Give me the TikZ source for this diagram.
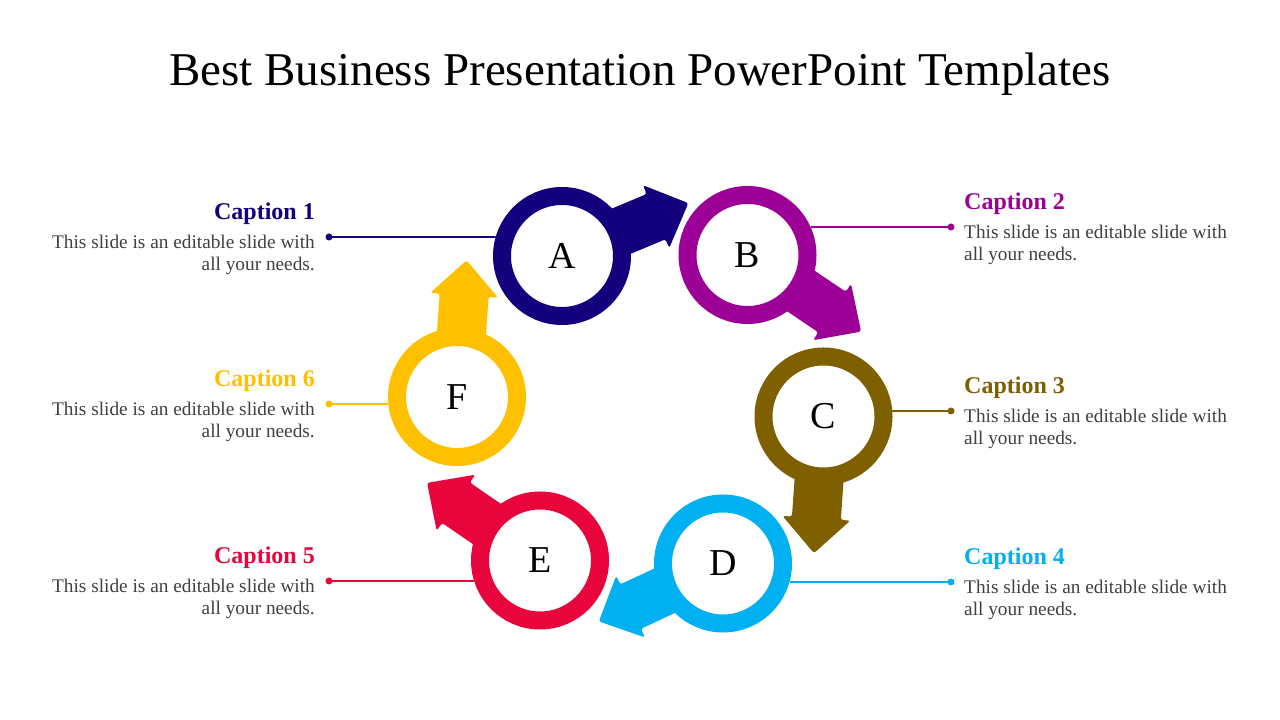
\documentclass[tikz,border=0pt]{standalone}
\usepackage{fontspec}
\setmainfont{Liberation Serif}
\definecolor{colA}{HTML}{13007C}
\definecolor{colB}{HTML}{9C0096}
\definecolor{colC}{HTML}{7F6000}
\definecolor{colD}{HTML}{00B0F0}
\definecolor{colE}{HTML}{E8053B}
\definecolor{colF}{HTML}{FFC000}
\definecolor{bodygray}{HTML}{404040}
\tikzset{
  ring/.style={circle, draw=#1, line width=18pt, fill=white, minimum size=120pt,
    inner sep=0pt, font=\fontsize{38}{38}\selectfont, text=black},
  arrowshape/.style={fill=#1, rounded corners=2.5pt},
  conn/.style={draw=#1, line width=2pt},
  dotmark/.style={fill=#1},
  captitle/.style={text=#1, inner sep=0pt, font=\bfseries\fontsize{24}{26}\selectfont},
  capbody/.style={text=bodygray, inner sep=0pt, font=\fontsize{19.3}{22}\selectfont},
}
\newcommand{\ringarrow}[3]{%
  \begin{scope}[shift={(#1)}, rotate=#2]
    \fill[arrowshape=#3] (40,-24.5) -- (102,-24.5) -- (102,-34) -- (137,0) -- (102,34) -- (102,24.5) -- (40,24.5) -- cycle;
  \end{scope}}
\begin{document}
\begin{tikzpicture}[x=1pt, y=1pt]
\useasboundingbox (0,0) rectangle (1280,720);
\fill[white] (0,0) rectangle (1280,720);
% title
\node[anchor=base, inner sep=0pt, font=\fontsize{47}{50}\selectfont] (title) at (640,634) {Best Business Presentation PowerPoint Templates};
% ring centres
\coordinate (cA) at (562,464);
\coordinate (cB) at (747.5,465);
\coordinate (cC) at (823.5,303.5);
\coordinate (cD) at (723,156.5);
\coordinate (cE) at (540,159.5);
\coordinate (cF) at (457,323);
% arrows
\ringarrow{cA}{22.7}{colA}
\ringarrow{cB}{-34}{colB}
\ringarrow{cC}{-94}{colC}
\ringarrow{cD}{205}{colD}
\ringarrow{cE}{145.5}{colE}
\ringarrow{cF}{86}{colF}
% rings
\node[ring=colA] (A) at (cA) {A};
\node[ring=colB] (B) at (cB) {B};
\node[ring=colC] (C) at (cC) {C};
\node[ring=colD] (D) at (cD) {D};
\node[ring=colE] (E) at (cE) {E};
\node[ring=colF] (F) at (cF) {F};
% dots
\coordinate (d1) at (329,483);
\coordinate (d2) at (951,493);
\coordinate (d3) at (951,309);
\coordinate (d4) at (951,138);
\coordinate (d5) at (329,139);
\coordinate (d6) at (329,316);
% connectors
\draw[conn=colA] (d1) -- (d1 -| A.164);
\draw[conn=colB] (d2) -- (d2 -| B.23.9);
\draw[conn=colC] (d3) -- (d3 -| C.4.6);
\draw[conn=colD] (d4) -- (d4 -| D.-15.6);
\draw[conn=colE] (d5) -- (d5 -| E.197.3);
\draw[conn=colF] (d6) -- (d6 -| F.185.8);
\fill[dotmark=colA] (d1) circle (3.5);
\fill[dotmark=colB] (d2) circle (3.5);
\fill[dotmark=colC] (d3) circle (3.5);
\fill[dotmark=colD] (d4) circle (3.5);
\fill[dotmark=colE] (d5) circle (3.5);
\fill[dotmark=colF] (d6) circle (3.5);
% captions left
\node[captitle=colA, anchor=base east] (t1) at ([shift={(-14,17)}]d1) {Caption 1};
\node[capbody, anchor=base east, align=right] (b1) at ([shift={(-14,-34)}]d1) {This slide is an editable slide with\\all your needs.};
\node[captitle=colF, anchor=base east] (t6) at ([shift={(-14,17)}]d6) {Caption 6};
\node[capbody, anchor=base east, align=right] (b6) at ([shift={(-14,-34)}]d6) {This slide is an editable slide with\\all your needs.};
\node[captitle=colE, anchor=base east] (t5) at ([shift={(-14,17)}]d5) {Caption 5};
\node[capbody, anchor=base east, align=right] (b5) at ([shift={(-14,-34)}]d5) {This slide is an editable slide with\\all your needs.};
% captions right
\node[captitle=colB, anchor=base west] (t2) at ([shift={(13,17)}]d2) {Caption 2};
\node[capbody, anchor=base west, align=left] (b2) at ([shift={(13,-34)}]d2) {This slide is an editable slide with\\all your needs.};
\node[captitle=colC, anchor=base west] (t3) at ([shift={(13,17)}]d3) {Caption 3};
\node[capbody, anchor=base west, align=left] (b3) at ([shift={(13,-34)}]d3) {This slide is an editable slide with\\all your needs.};
\node[captitle=colD, anchor=base west] (t4) at ([shift={(13,17)}]d4) {Caption 4};
\node[capbody, anchor=base west, align=left] (b4) at ([shift={(13,-34)}]d4) {This slide is an editable slide with\\all your needs.};
\end{tikzpicture}
\end{document}
